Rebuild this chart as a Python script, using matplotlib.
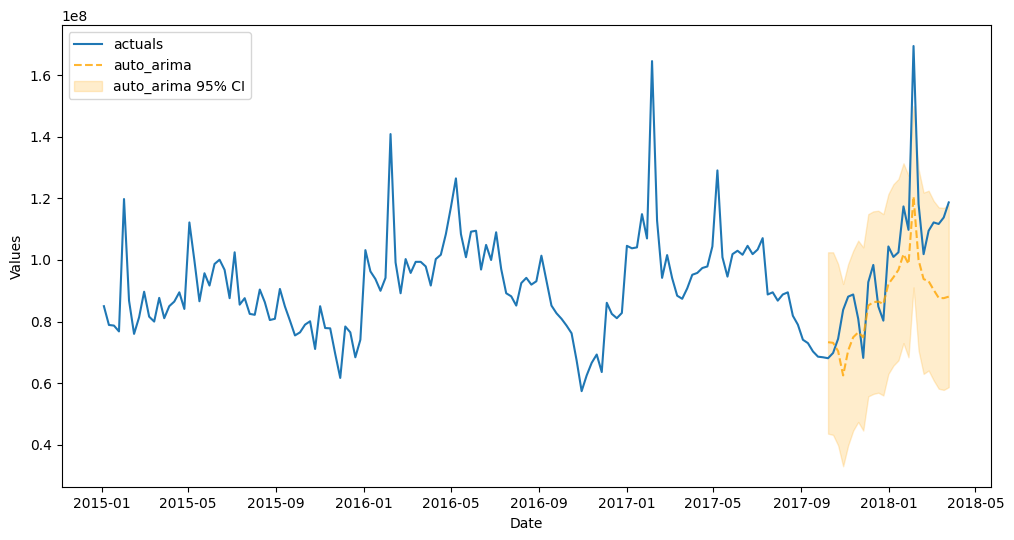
import matplotlib
matplotlib.use("Agg")
import matplotlib.pyplot as plt
import numpy as np
import pandas as pd

# weekly dates (Sundays)
dates = pd.date_range("2015-01-04", periods=169, freq="W-SUN")

# actual values, in units of 1e8
actuals = [
    0.850, 0.789, 0.787, 0.768, 1.198, 0.868, 0.760, 0.814, 0.897, 0.816,
    0.800, 0.877, 0.811, 0.850, 0.865, 0.895, 0.841, 1.122, 0.998, 0.866,
    0.957, 0.917, 0.987, 1.001, 0.968, 0.876, 1.025, 0.855, 0.876, 0.825,
    0.822, 0.904, 0.863, 0.805, 0.809, 0.906, 0.849, 0.803, 0.755, 0.765,
    0.790, 0.801, 0.711, 0.850, 0.779, 0.778, 0.695, 0.617, 0.784, 0.765,
    0.684, 0.741, 1.032, 0.963, 0.938, 0.900, 0.942, 1.409, 0.992, 0.892,
    1.003, 0.958, 0.994, 0.994, 0.979, 0.917, 1.003, 1.017, 1.084, 1.171,
    1.265, 1.084, 1.009, 1.092, 1.095, 0.969, 1.049, 1.000, 1.090, 0.971,
    0.892, 0.882, 0.852, 0.925, 0.942, 0.920, 0.931, 1.014, 0.933, 0.852,
    0.827, 0.809, 0.787, 0.762, 0.674, 0.574, 0.625, 0.666, 0.693, 0.636,
    0.861, 0.825, 0.811, 0.828, 1.046, 1.038, 1.041, 1.149, 1.070, 1.646,
    1.128, 0.942, 1.016, 0.941, 0.884, 0.874, 0.908, 0.952, 0.958, 0.974,
    0.979, 1.044, 1.291, 1.009, 0.946, 1.019, 1.030, 1.017, 1.046, 1.019,
    1.034, 1.071, 0.888, 0.895, 0.868, 0.888, 0.895, 0.819, 0.790, 0.741,
    0.730, 0.703, 0.686, 0.684, 0.681, 0.698, 0.744, 0.838, 0.881, 0.888,
    0.809, 0.682, 0.928, 0.984, 0.849, 0.803, 1.044, 1.010, 1.025, 1.174,
    1.098, 1.695, 1.182, 1.019, 1.095, 1.122, 1.117, 1.138, 1.187,
]

# forecast covers the last 25 weeks
fcst_start = 144
forecast = [
    0.733, 0.731, 0.704, 0.625, 0.706, 0.749, 0.765, 0.749, 0.852, 0.863,
    0.865, 0.857, 0.922, 0.944, 0.968, 1.019, 0.987, 1.206, 1.000, 0.938,
    0.931, 0.903, 0.877, 0.876, 0.881,
]
ci_lower = [
    0.436, 0.432, 0.398, 0.330, 0.398, 0.446, 0.474, 0.446, 0.557, 0.565,
    0.569, 0.560, 0.630, 0.657, 0.674, 0.730, 0.684, 0.911, 0.706, 0.630,
    0.641, 0.609, 0.582, 0.578, 0.587,
]
ci_upper = [
    1.025, 1.025, 0.987, 0.922, 0.987, 1.030, 1.063, 1.041, 1.149, 1.158,
    1.160, 1.149, 1.214, 1.246, 1.263, 1.314, 1.274, 1.500, 1.295, 1.219,
    1.225, 1.192, 1.171, 1.169, 1.180,
]

scale = 1e8
y = np.array(actuals) * scale
f = np.array(forecast) * scale
lo = np.array(ci_lower) * scale
hi = np.array(ci_upper) * scale
fdates = dates[fcst_start:]

fig = plt.figure(figsize=(10.14, 5.4), dpi=100)
ax = fig.add_axes([0.0608, 0.0976, 0.9165, 0.8561])

ax.plot(dates, y, color="#1f77b4", label="actuals")
ax.plot(fdates, f, color="orange", linestyle="--", alpha=0.8, label="auto_arima")
ax.fill_between(fdates, lo, hi, color="orange", alpha=0.2, label="auto_arima 95% CI")

ax.set_xlabel("Date")
ax.set_ylabel("Values")
ax.legend(loc="upper left")

fig.savefig("out.png", dpi=100)
